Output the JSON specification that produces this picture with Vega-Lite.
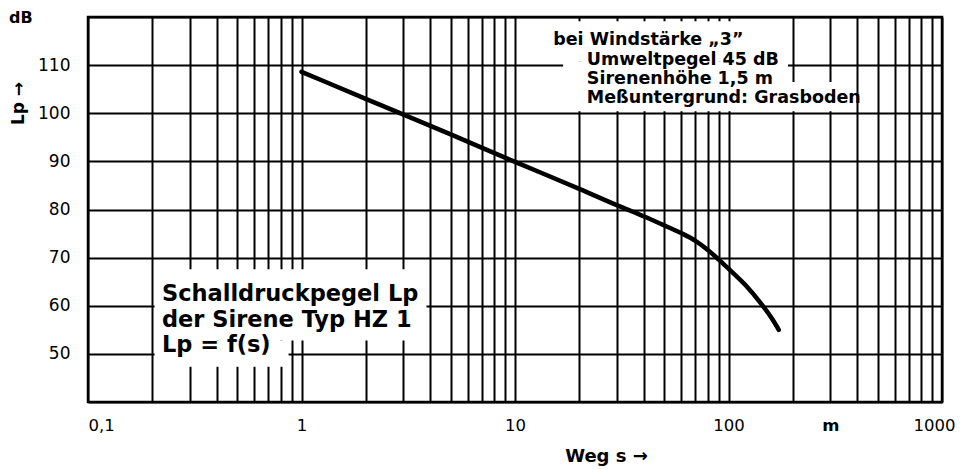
{
  "$schema": "https://vega.github.io/schema/vega-lite/v6.json",
  "width": 854,
  "height": 385,
  "autosize": {"type": "none"},
  "padding": {"left": 88, "top": 17, "right": 20, "bottom": 67},
  "background": "white",
  "config": {
    "view": {"stroke": "black", "strokeWidth": 2.5},
    "axis": {
      "grid": true,
      "gridColor": "black",
      "gridWidth": 2,
      "gridOpacity": 1,
      "ticks": false,
      "tickSize": 0,
      "domain": false,
      "labelOverlap": false,
      "labelFont": "DejaVu Sans",
      "labelColor": "black",
      "titleFont": "DejaVu Sans",
      "titleColor": "black",
      "titleFontWeight": "bold"
    }
  },
  "layer": [
    {
      "data": {"values": [
        {"s": 13.5, "s2": 190, "Lp": 110.8, "Lp2": 119.1},
        {"s": 16.8, "s2": 190, "Lp": 106.5, "Lp2": 110.8},
        {"s": 16.8, "s2": 390, "Lp": 100.4, "Lp2": 106.5},
        {"s": 0.205, "s2": 3.85, "Lp": 52.8, "Lp2": 67.6},
        {"s": 0.205, "s2": 0.87, "Lp": 47.3, "Lp2": 52.8}
      ]},
      "mark": {"type": "rect", "fill": "white", "stroke": null},
      "encoding": {
        "x": {
          "field": "s", "type": "quantitative",
          "scale": {"type": "log", "domain": [0.1, 1000], "nice": false},
          "axis": {
            "values": [0.1,0.2,0.3,0.4,0.5,0.6,0.7,0.8,0.9,1,2,3,4,5,6,7,8,9,10,20,30,40,50,60,70,80,90,100,200,300,400,500,600,700,800,900,1000],
            "labelExpr": "datum.value == 0.1 ? '0,1' : datum.value == 1 ? '1' : datum.value == 10 ? '10' : datum.value == 100 ? '100' : datum.value == 300 ? 'm' : datum.value == 1000 ? '1000' : ''",
            "labelFlush": false,
            "labelAlign": {"condition": {"test": "datum.value == 0.1", "value": "left"}, "value": "center"},
            "labelOffset": {"condition": {"test": "datum.value == 1000", "value": -8}, "value": 0},
            "labelFontWeight": {"condition": {"test": "datum.value == 300", "value": "bold"}, "value": "normal"},
            "labelPadding": 15,
            "labelFontSize": 16.5,
            "title": "Weg s →",
            "titleFontSize": 18,
            "titleX": 518,
            "titleY": 54,
            "titleAlign": "center",
            "titleBaseline": "middle"
          }
        },
        "x2": {"field": "s2"},
        "y": {
          "field": "Lp", "type": "quantitative",
          "scale": {"domain": [40, 120], "nice": false},
          "axis": {
            "values": [40,45,50,55,60,65,70,75,80,85,90,95,100,105,110,115,120],
            "labelExpr": "(datum.value % 10 == 0 && datum.value >= 50 && datum.value <= 110) ? datum.label : ''",
            "labelPadding": 18,
            "labelFontSize": 17,
            "title": "Lp →",
            "titleFontSize": 17,
            "titleAngle": 270,
            "titleX": -70,
            "titleY": 86,
            "titleAlign": "center",
            "titleBaseline": "middle"
          }
        },
        "y2": {"field": "Lp2"}
      }
    },
    {
      "data": {"values": [
        {"s": 1, "Lp": 108.6},
        {"s": 2, "Lp": 103.0},
        {"s": 5, "Lp": 95.6},
        {"s": 10, "Lp": 89.9},
        {"s": 20, "Lp": 84.3},
        {"s": 30, "Lp": 80.9},
        {"s": 40, "Lp": 78.6},
        {"s": 50, "Lp": 76.7},
        {"s": 60, "Lp": 75.1},
        {"s": 70, "Lp": 73.5},
        {"s": 80, "Lp": 71.6},
        {"s": 90, "Lp": 69.6},
        {"s": 100, "Lp": 67.7},
        {"s": 120, "Lp": 64.3},
        {"s": 140, "Lp": 60.8},
        {"s": 160, "Lp": 57.3},
        {"s": 172, "Lp": 55.0}
      ]},
      "mark": {"type": "line", "color": "black", "strokeWidth": 4.5, "interpolate": "monotone", "strokeCap": "round"},
      "encoding": {
        "x": {"field": "s", "type": "quantitative"},
        "y": {"field": "Lp", "type": "quantitative"}
      }
    },
    {
      "data": {"values": [
        {"s": 15.1, "Lp": 114.2, "label": "bei Windstärke „3”"},
        {"s": 21.7, "Lp": 110.1, "label": "Umweltpegel 45 dB"},
        {"s": 21.7, "Lp": 106.0, "label": "Sirenenhöhe 1,5 m"},
        {"s": 21.7, "Lp": 102.2, "label": "Meßuntergrund: Grasboden"}
      ]},
      "mark": {"type": "text", "font": "DejaVu Sans", "fontWeight": "bold", "fontSize": 17.5, "align": "left", "baseline": "alphabetic", "color": "black"},
      "encoding": {
        "x": {"field": "s", "type": "quantitative"},
        "y": {"field": "Lp", "type": "quantitative"},
        "text": {"field": "label"}
      }
    },
    {
      "data": {"values": [
        {"s": 0.222, "Lp": 61.0, "label": "Schalldruckpegel Lp"},
        {"s": 0.222, "Lp": 55.5, "label": "der Sirene Typ HZ 1"},
        {"s": 0.222, "Lp": 50.3, "label": "Lp = f(s)"}
      ]},
      "mark": {"type": "text", "font": "DejaVu Sans", "fontWeight": "bold", "fontSize": 22.5, "align": "left", "baseline": "alphabetic", "color": "black"},
      "encoding": {
        "x": {"field": "s", "type": "quantitative"},
        "y": {"field": "Lp", "type": "quantitative"},
        "text": {"field": "label"}
      }
    },
    {
      "data": {"values": [
        {"s": 0.0485, "Lp": 119.8, "label": "dB"}
      ]},
      "mark": {"type": "text", "font": "DejaVu Sans", "fontWeight": "bold", "fontSize": 16, "align": "center", "baseline": "middle", "color": "black"},
      "encoding": {
        "x": {"field": "s", "type": "quantitative"},
        "y": {"field": "Lp", "type": "quantitative"},
        "text": {"field": "label"}
      }
    }
  ]
}
